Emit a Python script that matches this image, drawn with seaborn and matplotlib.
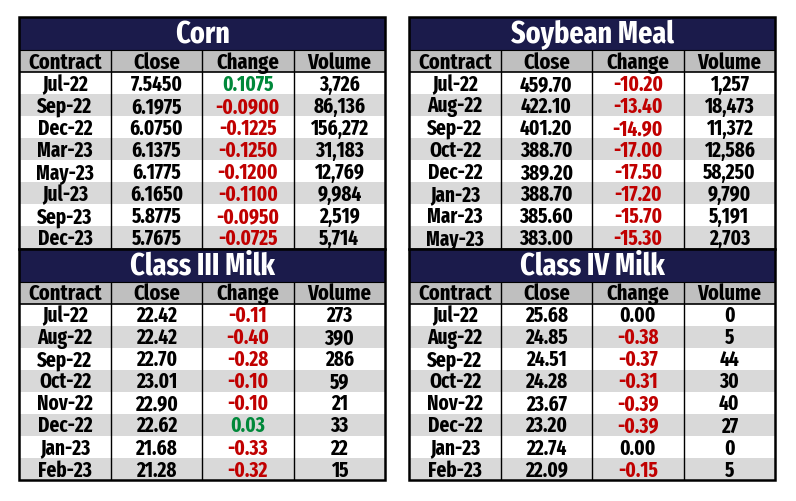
import matplotlib
matplotlib.use("Agg")
import matplotlib.pyplot as plt
from matplotlib.colors import ListedColormap
from matplotlib.patches import Rectangle
from matplotlib import font_manager
import numpy as np
import seaborn as sns

# ---------------- data ----------------
columns = ["Contract", "Close", "Change", "Volume"]

corn_contracts = ["Jul-22", "Sep-22", "Dec-22", "Mar-23", "May-23", "Jul-23", "Sep-23", "Dec-23"]
corn_close = [7.5450, 6.1975, 6.0750, 6.1375, 6.1775, 6.1650, 5.8775, 5.7675]
corn_change = [0.1075, -0.0900, -0.1225, -0.1250, -0.1200, -0.1100, -0.0950, -0.0725]
corn_volume = [3726, 86136, 156272, 31183, 12769, 9984, 2519, 5714]

meal_contracts = ["Jul-22", "Aug-22", "Sep-22", "Oct-22", "Dec-22", "Jan-23", "Mar-23", "May-23"]
meal_close = [459.70, 422.10, 401.20, 388.70, 389.20, 388.70, 385.60, 383.00]
meal_change = [-10.20, -13.40, -14.90, -17.00, -17.50, -17.20, -15.70, -15.30]
meal_volume = [1257, 18473, 11372, 12586, 58250, 9790, 5191, 2703]

milk3_contracts = ["Jul-22", "Aug-22", "Sep-22", "Oct-22", "Nov-22", "Dec-22", "Jan-23", "Feb-23"]
milk3_close = [22.42, 22.42, 22.70, 23.01, 22.90, 22.62, 21.68, 21.28]
milk3_change = [-0.11, -0.40, -0.28, -0.10, -0.10, 0.03, -0.33, -0.32]
milk3_volume = [273, 390, 286, 59, 21, 33, 22, 15]

milk4_contracts = ["Jul-22", "Aug-22", "Sep-22", "Oct-22", "Nov-22", "Dec-22", "Jan-23", "Feb-23"]
milk4_close = [25.68, 24.85, 24.51, 24.28, 23.67, 23.20, 22.74, 22.09]
milk4_change = [0.00, -0.38, -0.37, -0.31, -0.39, -0.39, 0.00, -0.15]
milk4_volume = [0, 5, 44, 30, 40, 27, 0, 5]

# ---------------- style ----------------
sns.set_theme(style="white")


def _is_bold(f):
    w = f.weight
    if isinstance(w, str):
        return w in ("bold", "heavy", "extra bold", "black", "demibold", "semibold")
    return w >= 600


def _rank(f):
    n = f.fname.replace("_", "").replace(" ", "")
    order = ["ExtraCondensed-Bold", "Condensed-Bold", "CondensedBold", "Narrow-Bold", "NarrowBold"]
    for k, key in enumerate(order):
        if key in n:
            return k
    return 10


cond = [f for f in font_manager.fontManager.ttflist
        if _is_bold(f) and f.style == "normal"
        and ("ondensed" in f.fname or "arrow" in f.fname)]
cond.sort(key=lambda f: (_rank(f), f.fname))
FONT = font_manager.FontProperties(fname=cond[0].fname) if cond else None
plt.rcParams["font.family"] = [FONT.get_name() if FONT else "DejaVu Sans", "DejaVu Sans"]

NAVY = "#1b1b4b"
HEAD = "#bfbfbf"
STRIPE = "#d9d9d9"
RED = "#c00000"
GREEN = "#00883a"

W, H = 796, 502
fig = plt.figure(figsize=(W / 100, H / 100), dpi=100)
fig.patch.set_facecolor("white")

TITLE_ROWS = 1.5
TITLE_SIZE, HEAD_SIZE, CELL_SIZE = 22, 16, 15


def txt(ax, x, y, s, size, color):
    kw = dict(ha="center", va="center", color=color)
    if FONT is not None:
        fp = FONT.copy()
        fp.set_size(size)
        ax.text(x, y, s, fontproperties=fp, **kw)
    else:
        ax.text(x, y, s, fontweight="bold", fontstretch="condensed", fontsize=size, **kw)


def draw_table(x0, y0, w, h, title, contracts, close, change, volume, dec):
    ax = fig.add_axes([x0 / W, 1 - (y0 + h) / H, w / W, h / H])
    n = len(contracts)
    stripes = np.array([[i % 2] * 4 for i in range(n)])
    sns.heatmap(stripes, cmap=ListedColormap(["white", STRIPE]), vmin=0, vmax=1,
                cbar=False, ax=ax, xticklabels=False, yticklabels=False)
    ax.set_xlim(0, 4)
    ax.set_ylim(n, -1 - TITLE_ROWS)
    ax.axis("off")
    ax.add_patch(Rectangle((0, -1 - TITLE_ROWS), 4, TITLE_ROWS, facecolor=NAVY, edgecolor="none"))
    ax.add_patch(Rectangle((0, -1), 4, 1, facecolor=HEAD, edgecolor="none"))
    txt(ax, 2, -1 - TITLE_ROWS / 2 + 0.02, title, TITLE_SIZE, "white")
    for j, c in enumerate(columns):
        txt(ax, j + 0.5, -0.5 + 0.02, c, HEAD_SIZE, "black")
    for i in range(n):
        chg = change[i]
        col = GREEN if chg > 0 else (RED if chg < 0 else "black")
        vals = [contracts[i], f"{close[i]:.{dec}f}", f"{chg:.{dec}f}", f"{volume[i]:,}"]
        for j, v in enumerate(vals):
            txt(ax, j + 0.5, i + 0.5 + 0.02, v, CELL_SIZE, col if j == 2 else "black")
    for j in (1, 2, 3):
        ax.plot([j, j], [-1, n], color="black", lw=1.0, solid_capstyle="butt")
    ax.plot([0, 4], [0, 0], color="black", lw=1.2)
    ax.plot([0, 4], [-1, -1], color="black", lw=0.8)
    ax.add_patch(Rectangle((0, -1 - TITLE_ROWS), 4, n + 1 + TITLE_ROWS, facecolor="none",
                           edgecolor="black", lw=1.8, clip_on=False))
    return ax


LX0, LX1 = 19.3, 385
RX0, RX1 = 409.3, 775
TOP_Y, MID_Y, BOT_Y = 18.3, 249.5, 481

draw_table(LX0, TOP_Y, LX1 - LX0, MID_Y - TOP_Y, "Corn", corn_contracts, corn_close, corn_change, corn_volume, 4)
draw_table(RX0, TOP_Y, RX1 - RX0, MID_Y - TOP_Y, "Soybean Meal", meal_contracts, meal_close, meal_change, meal_volume, 2)
draw_table(LX0, MID_Y, LX1 - LX0, BOT_Y - MID_Y, "Class III Milk", milk3_contracts, milk3_close, milk3_change, milk3_volume, 2)
draw_table(RX0, MID_Y, RX1 - RX0, BOT_Y - MID_Y, "Class IV Milk", milk4_contracts, milk4_close, milk4_change, milk4_volume, 2)

fig.savefig("out.png", dpi=100, facecolor="white")
